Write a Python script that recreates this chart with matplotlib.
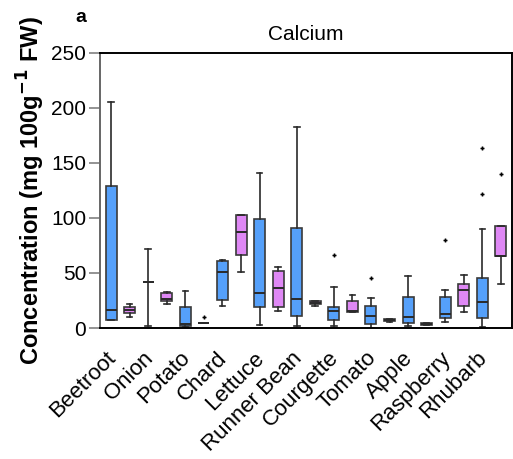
import matplotlib
matplotlib.use("Agg")
import matplotlib.pyplot as plt
import numpy as np

plt.rcParams['font.family'] = ['Liberation Sans', 'DejaVu Sans']

categories = ["Beetroot", "Onion", "Potato", "Chard", "Lettuce", "Runner Bean",
              "Courgette", "Tomato", "Apple", "Raspberry", "Rhubarb"]

# Two boxes per crop: first series (blue), second series (pink)
whislo = [7, 10, 1.8, 21.8, 1, 5, 20, 51, 2.7, 15.5, 1.8, 20.3, 1.8, 14.8, 0.3, 5.4, 1.8, 2.3, 5.5, 14.5, 0.9, 40]
q1     = [7.2, 13.3, 41.5, 24.5, 1.5, 5, 25.5, 66.6, 19.1, 19.4, 10.9, 21.8, 7.3, 14.8, 3.6, 6.3, 4.8, 2.3, 9.1, 19.7, 9.1, 65.5]
med    = [16.3, 16, 41.5, 26.4, 3.6, 5, 50.9, 87.3, 31.8, 36.4, 26.4, 23, 15.5, 15.1, 10.9, 7.5, 10, 3.2, 12.7, 34.8, 23.6, 65.5]
q3     = [129, 19.4, 41.5, 32, 19.1, 5, 60.9, 102.7, 99, 52.1, 91.2, 24.5, 19.1, 24.5, 20, 8.5, 28.2, 4.5, 28.2, 40, 45.5, 92.7]
whishi = [205.4, 21.8, 71.8, 32.7, 33.6, 5, 61.8, 102.7, 140.9, 55.1, 182.7, 24.5, 37.3, 30, 27.3, 8.5, 47.3, 4.5, 34.5, 48.2, 90, 92.7]
fliers = [[], [], [], [], [], [10], [], [], [], [], [], [],
          [66.4], [], [45.5], [], [], [], [80], [], [163.6, 121.8], [140]]
fills  = ["#55a0fa", "#df88f5"] * 11
fills[17] = "#7fa8e0"

stats = []
for i in range(len(med)):
    stats.append(dict(whislo=whislo[i], q1=q1[i], med=med[i], q3=q3[i],
                      whishi=whishi[i], fliers=fliers[i]))

fig = plt.figure(figsize=(5.13, 4.59), dpi=100)
ax = fig.add_axes([100/513, 131/459, 412/513, 275/459])

positions = np.arange(len(stats))
bp = ax.bxp(stats, positions=positions, widths=0.59, patch_artist=True,
            capwidths=0.3,
            boxprops=dict(edgecolor="#3a3a3a", linewidth=1.2),
            medianprops=dict(color="#2a2a2a", linewidth=1.4),
            whiskerprops=dict(color="#2a2a2a", linewidth=1.2),
            capprops=dict(color="#2a2a2a", linewidth=1.2),
            flierprops=dict(marker='P', markersize=2.6, markerfacecolor='black',
                            markeredgecolor='black', markeredgewidth=0.2))
for patch, c in zip(bp['boxes'], fills):
    patch.set_facecolor(c)

ax.set_xlim(-0.6, 21.6)
ax.set_ylim(0, 250)
ax.set_yticks([0, 50, 100, 150, 200, 250])
ax.tick_params(axis='y', labelsize=15, length=8, width=1.2, color="#808080", pad=2)
ax.set_xticks(np.arange(len(categories)) * 2 + 0.5)
ax.set_xticklabels(categories, rotation=45, ha='right', va='top', fontsize=16)
ax.tick_params(axis='x', length=0, pad=14)

for side in ['top', 'bottom', 'right']:
    ax.spines[side].set_color('black')
    ax.spines[side].set_linewidth(1.4)
ax.spines['left'].set_color('#666666')
ax.spines['left'].set_linewidth(1.4)

ax.set_title("Calcium", fontsize=15, pad=9)
ax.set_ylabel("Concentration (mg 100g$^{\\mathbf{-1}}$ FW)", fontsize=17,
              fontweight='bold', labelpad=3)
fig.text(81/513, 1 - 18/459, "a", fontsize=14, fontweight='bold', ha='center', va='center')

fig.savefig("out.png", dpi=100)
